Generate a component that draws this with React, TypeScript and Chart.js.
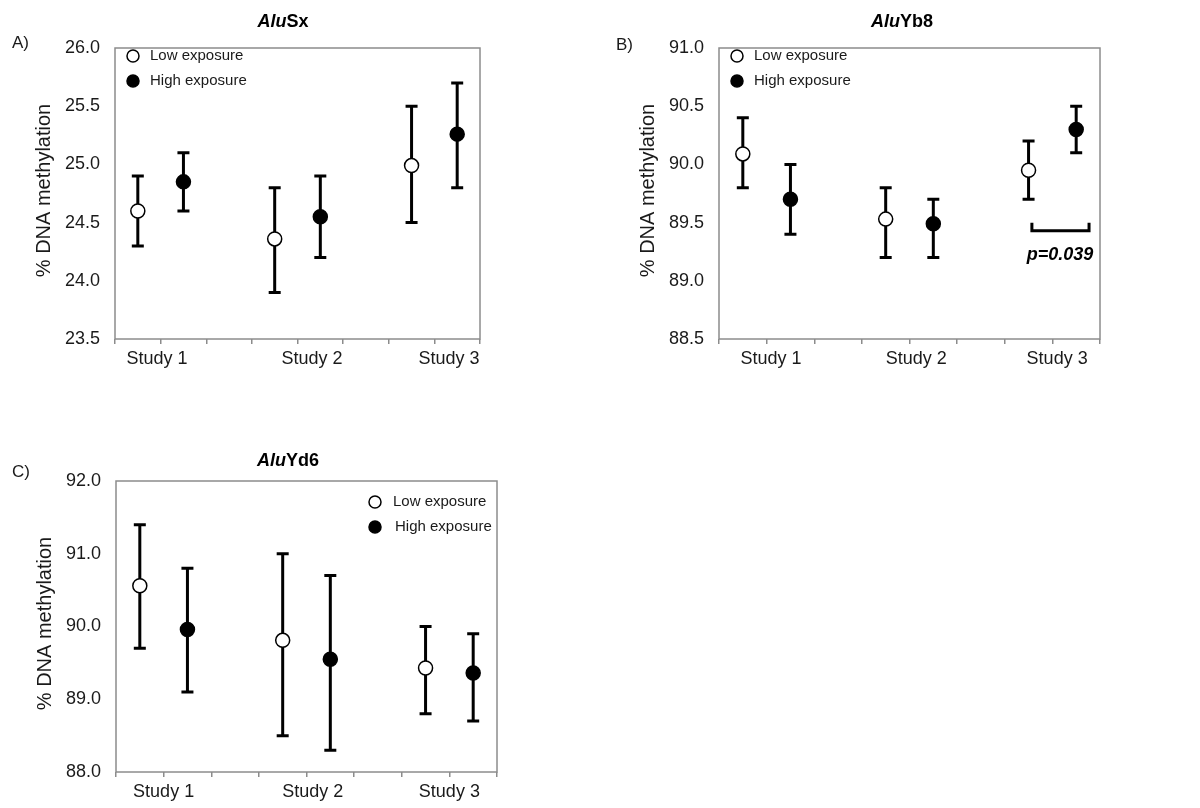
import React, { useEffect, useRef } from "react";
import { Chart, registerables } from "chart.js";

Chart.register(...registerables);

const FONT = "'Liberation Sans', Arial, Helvetica, sans-serif";

// ---------- data ----------
const studies = ["Study 1", "Study 2", "Study 3"];
const seriesNames = ["Low exposure", "High exposure"];
const lowX = [0.5, 3.5, 6.5];
const highX = [1.5, 4.5, 7.5];

// AluSx
const sxLowMean = [24.6, 24.36, 24.99];
const sxLowMin = [24.3, 23.9, 24.5];
const sxLowMax = [24.9, 24.8, 25.5];
const sxHighMean = [24.85, 24.55, 25.26];
const sxHighMin = [24.6, 24.2, 24.8];
const sxHighMax = [25.1, 24.9, 25.7];

// AluYb8
const yb8LowMean = [90.09, 89.53, 89.95];
const yb8LowMin = [89.8, 89.2, 89.7];
const yb8LowMax = [90.4, 89.8, 90.2];
const yb8HighMean = [89.7, 89.49, 90.3];
const yb8HighMin = [89.4, 89.2, 90.1];
const yb8HighMax = [90.0, 89.7, 90.5];

// AluYd6
const yd6LowMean = [90.56, 89.81, 89.43];
const yd6LowMin = [89.7, 88.5, 88.8];
const yd6LowMax = [91.4, 91.0, 90.0];
const yd6HighMean = [89.96, 89.55, 89.36];
const yd6HighMin = [89.1, 88.3, 88.7];
const yd6HighMax = [90.8, 90.7, 89.9];

const pValueText = "p=0.039";
const yAxisTitle = "% DNA methylation";

type Panel = {
  letter: string;
  titleItalic: string;
  titleRest: string;
  yMin: number;
  yMax: number;
  yStep: number;
  low: { mean: number[]; min: number[]; max: number[] };
  high: { mean: number[]; min: number[]; max: number[] };
  canvas: { left: number; top: number; width: number; height: number };
  area: { left: number; top: number; right: number; bottom: number };
  labelX: number[];
  titleX: number;
  titleY: number;
  letterX: number;
  letterY: number;
  legend: { dx: number; dy: number; tx: number[] };
  bracket?: { x0: number; x1: number; y: number; textX: number; textY: number };
};

const panels: Panel[] = [
  {
    letter: "A)",
    titleItalic: "Alu",
    titleRest: "Sx",
    yMin: 23.5,
    yMax: 26.0,
    yStep: 0.5,
    low: { mean: sxLowMean, min: sxLowMin, max: sxLowMax },
    high: { mean: sxHighMean, min: sxHighMin, max: sxHighMax },
    canvas: { left: 0, top: 0, width: 600, height: 390 },
    area: { left: 115, top: 48, right: 480, bottom: 339 },
    labelX: [0.92, 4.32, 7.32],
    titleX: 283,
    titleY: 22,
    letterX: 12,
    letterY: 43,
    legend: { dx: 18, dy: 8, tx: [35, 35] },
  },
  {
    letter: "B)",
    titleItalic: "Alu",
    titleRest: "Yb8",
    yMin: 88.5,
    yMax: 91.0,
    yStep: 0.5,
    low: { mean: yb8LowMean, min: yb8LowMin, max: yb8LowMax },
    high: { mean: yb8HighMean, min: yb8HighMin, max: yb8HighMax },
    canvas: { left: 600, top: 0, width: 600, height: 390 },
    area: { left: 119, top: 48, right: 500, bottom: 339 },
    labelX: [1.09, 4.14, 7.1],
    titleX: 302,
    titleY: 22,
    letterX: 16,
    letterY: 45,
    legend: { dx: 18, dy: 8, tx: [35, 35] },
    bracket: { x0: 6.57, x1: 7.77, y: 89.43, textX: 7.16, textY: 89.22 },
  },
  {
    letter: "C)",
    titleItalic: "Alu",
    titleRest: "Yd6",
    yMin: 88.0,
    yMax: 92.0,
    yStep: 1.0,
    low: { mean: yd6LowMean, min: yd6LowMin, max: yd6LowMax },
    high: { mean: yd6HighMean, min: yd6HighMin, max: yd6HighMax },
    canvas: { left: 0, top: 400, width: 600, height: 408 },
    area: { left: 116, top: 81, right: 497, bottom: 372 },
    labelX: [1.0, 4.13, 7.0],
    titleX: 288,
    titleY: 61,
    letterX: 12,
    letterY: 72,
    legend: { dx: 259, dy: 21, tx: [277, 279] },
  },
];

function makePlugin(p: Panel) {
  return {
    id: "panelDecor" + p.letter,
    beforeDatasetsDraw(chart: any) {
      const ctx = chart.ctx;
      const xs = chart.scales.x;
      const ys = chart.scales.y;
      const a = chart.chartArea;
      ctx.save();
      // frame
      ctx.strokeStyle = "#8c8c8c";
      ctx.lineWidth = 1.5;
      ctx.strokeRect(a.left, a.top, a.right - a.left, a.bottom - a.top);
      // error bars
      ctx.strokeStyle = "#000";
      ctx.lineWidth = 3;
      ctx.lineCap = "butt";
      const groups = [
        { xv: lowX, s: p.low },
        { xv: highX, s: p.high },
      ];
      for (const g of groups) {
        for (let i = 0; i < g.xv.length; i++) {
          const px = xs.getPixelForValue(g.xv[i]);
          const pTop = ys.getPixelForValue(g.s.max[i]);
          const pBot = ys.getPixelForValue(g.s.min[i]);
          ctx.beginPath();
          ctx.moveTo(px, pTop);
          ctx.lineTo(px, pBot);
          ctx.moveTo(px - 6, pTop);
          ctx.lineTo(px + 6, pTop);
          ctx.moveTo(px - 6, pBot);
          ctx.lineTo(px + 6, pBot);
          ctx.stroke();
        }
      }
      // significance bracket
      if (p.bracket) {
        const b = p.bracket;
        const x0 = xs.getPixelForValue(b.x0);
        const x1 = xs.getPixelForValue(b.x1);
        const y = ys.getPixelForValue(b.y);
        ctx.beginPath();
        ctx.moveTo(x0, y - 8);
        ctx.lineTo(x0, y);
        ctx.lineTo(x1, y);
        ctx.lineTo(x1, y - 8);
        ctx.stroke();
      }
      ctx.restore();
    },
    afterDraw(chart: any) {
      const ctx = chart.ctx;
      const xs = chart.scales.x;
      const ys = chart.scales.y;
      const a = chart.chartArea;
      ctx.save();
      ctx.fillStyle = "#1a1a1a";
      // category labels
      ctx.font = `18px ${FONT}`;
      ctx.textAlign = "center";
      ctx.textBaseline = "middle";
      for (let i = 0; i < studies.length; i++) {
        ctx.fillText(studies[i], xs.getPixelForValue(p.labelX[i]), a.bottom + 20);
      }
      // y title
      ctx.save();
      ctx.translate(a.left - 71, (a.top + a.bottom) / 2 - 3);
      ctx.rotate(-Math.PI / 2);
      ctx.font = `20px ${FONT}`;
      ctx.fillText(yAxisTitle, 0, 0);
      ctx.restore();
      // panel letter
      ctx.textAlign = "left";
      ctx.font = `17px ${FONT}`;
      ctx.fillText(p.letter, p.letterX, p.letterY);
      // title
      ctx.fillStyle = "#000";
      const fI = `italic bold 18px ${FONT}`;
      const fB = `bold 18px ${FONT}`;
      ctx.font = fI;
      const wI = ctx.measureText(p.titleItalic).width;
      ctx.font = fB;
      const wB = ctx.measureText(p.titleRest).width;
      const start = p.titleX - (wI + wB) / 2;
      ctx.font = fI;
      ctx.fillText(p.titleItalic, start, p.titleY);
      ctx.font = fB;
      ctx.fillText(p.titleRest, start + wI, p.titleY);
      // legend
      ctx.font = `15px ${FONT}`;
      ctx.fillStyle = "#1a1a1a";
      for (let k = 0; k < 2; k++) {
        const cx = a.left + p.legend.dx;
        const cy = a.top + p.legend.dy + k * 25;
        ctx.beginPath();
        ctx.arc(cx, cy, 6, 0, Math.PI * 2);
        ctx.fillStyle = k === 0 ? "#fff" : "#000";
        ctx.fill();
        ctx.lineWidth = 1.5;
        ctx.strokeStyle = "#000";
        ctx.stroke();
        ctx.fillStyle = "#1a1a1a";
        ctx.fillText(seriesNames[k], a.left + p.legend.tx[k], cy);
      }
      // p-value
      if (p.bracket) {
        ctx.textAlign = "center";
        ctx.fillStyle = "#000";
        ctx.font = `italic bold 18px ${FONT}`;
        ctx.fillText(pValueText, xs.getPixelForValue(p.bracket.textX), ys.getPixelForValue(p.bracket.textY));
      }
      ctx.restore();
    },
  };
}

function PanelChart({ p }: { p: Panel }) {
  const ref = useRef<HTMLCanvasElement | null>(null);
  useEffect(() => {
    if (!ref.current) return;
    const Y_W = 70;
    const X_H = 30;
    const chart = new Chart(ref.current, {
      type: "scatter",
      data: {
        datasets: [
          {
            label: seriesNames[0],
            data: lowX.map((x, i) => ({ x, y: p.low.mean[i] })),
            pointRadius: 7,
            pointHoverRadius: 7,
            pointBackgroundColor: "#ffffff",
            pointBorderColor: "#000000",
            pointBorderWidth: 1.5,
            showLine: false,
          },
          {
            label: seriesNames[1],
            data: highX.map((x, i) => ({ x, y: p.high.mean[i] })),
            pointRadius: 7,
            pointHoverRadius: 7,
            pointBackgroundColor: "#000000",
            pointBorderColor: "#000000",
            pointBorderWidth: 1.5,
            showLine: false,
          },
        ],
      },
      options: {
        responsive: false,
        animation: false,
        devicePixelRatio: 1,
        layout: {
          padding: {
            left: p.area.left - Y_W,
            top: p.area.top,
            right: p.canvas.width - p.area.right,
            bottom: p.canvas.height - p.area.bottom - X_H,
          },
        },
        plugins: {
          legend: { display: false },
          tooltip: { enabled: false },
          title: { display: false },
        },
        scales: {
          x: {
            type: "linear",
            min: 0,
            max: 8,
            ticks: { stepSize: 1, callback: () => "", autoSkip: false },
            grid: {
              display: true,
              drawOnChartArea: false,
              drawTicks: true,
              tickLength: 5,
              color: "#8c8c8c",
              lineWidth: 1.5,
            },
            border: { display: false },
            afterFit: (s: any) => {
              s.height = X_H;
            },
          },
          y: {
            type: "linear",
            min: p.yMin,
            max: p.yMax,
            ticks: {
              stepSize: p.yStep,
              padding: 15,
              color: "#1a1a1a",
              font: { family: FONT, size: 18 },
              callback: (v: any) => Number(v).toFixed(1),
            },
            grid: { display: false, drawTicks: false },
            border: { display: false },
            afterFit: (s: any) => {
              s.width = Y_W;
            },
          },
        },
      } as any,
      plugins: [makePlugin(p)],
    });
    return () => chart.destroy();
  }, [p]);
  return (
    <canvas
      ref={ref}
      width={p.canvas.width}
      height={p.canvas.height}
      style={{
        position: "absolute",
        left: p.canvas.left,
        top: p.canvas.top,
        width: p.canvas.width,
        height: p.canvas.height,
      }}
    />
  );
}

export default function App() {
  return (
    <div
      style={{
        position: "absolute",
        left: 0,
        top: 0,
        width: 1200,
        height: 808,
        background: "#ffffff",
        overflow: "hidden",
      }}
    >
      {panels.map((p) => (
        <PanelChart key={p.letter} p={p} />
      ))}
    </div>
  );
}
